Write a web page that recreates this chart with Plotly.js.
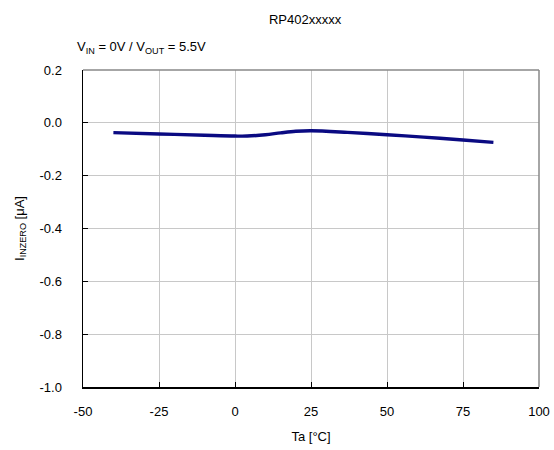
<!DOCTYPE html>
<html><head><meta charset="utf-8">
<script src="https://cdn.plot.ly/plotly-3.0.1.min.js"></script>
<style>html,body{margin:0;padding:0;background:#fff}</style>
</head><body>
<div id="chart" style="width:554px;height:450px"></div>
<script>
const temperature = [-40, -25, -10, 0, 4, 10, 15, 20, 25, 37, 50, 62, 75, 85];
const iInZero = [-0.037, -0.042, -0.047, -0.050, -0.050, -0.045, -0.038, -0.032, -0.030, -0.036, -0.045, -0.054, -0.065, -0.074];
const xTicks = [-50, -25, 0, 25, 50, 75, 100];
const yTicks = [0.2, 0.0, -0.2, -0.4, -0.6, -0.8, -1.0];

const font = {family: 'Liberation Sans, Arial, sans-serif', size: 13, color: '#000'};
Plotly.newPlot('chart', [{
  x: temperature, y: iInZero, type: 'scatter', mode: 'lines',
  line: {color: '#0a0a82', width: 3.4, shape: 'spline', smoothing: 1}
}], {
  width: 554, height: 450,
  margin: {l: 83, r: 15, t: 70, b: 63},
  paper_bgcolor: '#fff', plot_bgcolor: '#fff',
  font: font,
  showlegend: false,
  title: {text: 'RP402xxxxx', font: {size: 13}, xref: 'paper', x: 0.487, xanchor: 'center', y: 0.957, yanchor: 'middle'},
  xaxis: {
    range: [-50, 100], tickvals: xTicks, ticktext: xTicks.map(String),
    showgrid: true, gridcolor: '#c8c8c8', gridwidth: 1,
    showline: true, linecolor: '#000', linewidth: 1.5,
    ticks: 'inside', ticklen: 5, tickcolor: '#000', ticklabelstandoff: 12,
    zeroline: false,
    title: {text: 'Ta [°C]', font: {size: 13}, standoff: 14}
  },
  yaxis: {
    range: [-1.0, 0.2], tickvals: yTicks, ticktext: yTicks.map(v => v.toFixed(1)),
    showgrid: true, gridcolor: '#c8c8c8', gridwidth: 1,
    showline: true, linecolor: '#000', linewidth: 1.5,
    ticks: 'inside', ticklen: 5, tickcolor: '#000', ticklabelstandoff: 17,
    zeroline: false,
    title: {text: 'I<sub>INZERO</sub> [μA]', font: {size: 13}, standoff: 12}
  },
  shapes: [
    {type: 'line', xref: 'paper', yref: 'paper', x0: 0, x1: 1, y0: 1, y1: 1, line: {color: '#888', width: 1.5}},
    {type: 'line', xref: 'paper', yref: 'paper', x0: 1, x1: 1, y0: 0, y1: 1, line: {color: '#888', width: 1.5}}
  ],
  annotations: [{
    xref: 'paper', yref: 'paper', x: -0.0175, y: 1.07, xanchor: 'left', yanchor: 'middle',
    text: 'V<sub>IN</sub> = 0V / V<sub>OUT</sub> = 5.5V', showarrow: false, font: {size: 13}
  }]
}, {displayModeBar: false, staticPlot: true});
</script>
</body></html>
